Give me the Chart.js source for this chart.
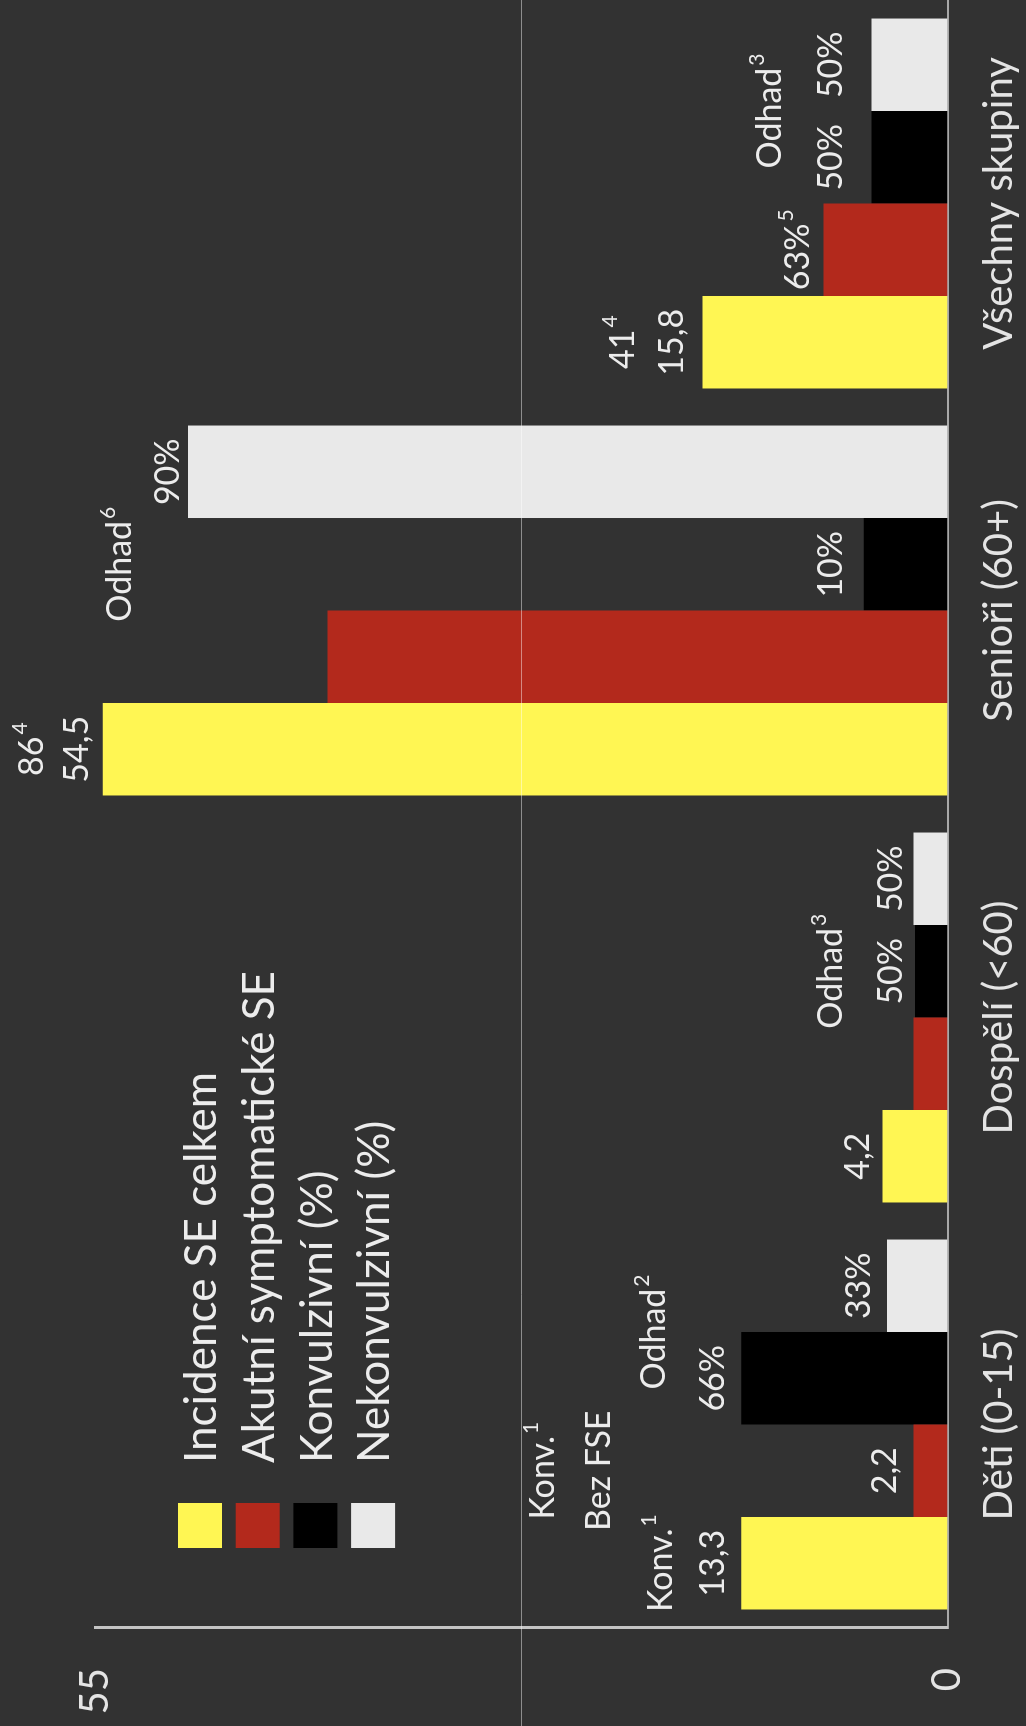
<!DOCTYPE html>
<html>
<head>
<meta charset="utf-8">
<script src="https://cdn.jsdelivr.net/npm/chart.js@4.4.0/dist/chart.umd.min.js"></script>
<style>
  html, body { margin: 0; padding: 0; background: #323232; overflow: hidden; }
  /* the chart is drawn landscape and turned a quarter left onto the portrait page */
  #turn { position: absolute; left: 0; top: 0; width: 1726px; height: 1026px;
          transform-origin: 0 0; transform: translateY(1726px) rotate(-90deg); }
  canvas { display: block; }
</style>
</head>
<body>
<div id="turn"><canvas id="chart" width="1726" height="1026"></canvas></div>
<script>
const categories = ['Děti (0-15)', 'Dospělí (<60)', 'Senioři (60+)', 'Všechny skupiny'];
const seriesNames = ['Incidence SE celkem', 'Akutní symptomatické SE', 'Konvulzivní (%)', 'Nekonvulzivní (%)'];
const incidence = [13.3, 4.2, 54.5, 15.8];
const acuteSymptomatic = [2.2, 2.2, 40.0, 8.0];
const convulsive = [13.3, 2.1, 5.4, 4.9];
const nonConvulsive = [3.9, 2.2, 49.0, 4.9];
const axisTicks = [0, 55];
const gridValue = 27.5;

const colors = ['#fff653', '#b3291c', '#000000', '#e9e9e9'];
const textColor = '#ececec';

// text written above the bars: category, bar(s) it sits on, how far above the bar end
const notes = [
  { cat: 0, on: [0], text: '13,3', lift: 28 },
  { cat: 0, on: [0], text: 'Konv.', sup: '1', lift: 80 },
  { cat: 0, on: [1], text: '2,2', lift: 28 },
  { cat: 0, on: [1], text: 'Bez FSE', lift: 314 },
  { cat: 0, on: [1], text: 'Konv.', sup: '1', lift: 370 },
  { cat: 0, on: [2], text: '66%', lift: 28 },
  { cat: 0, on: [2, 3], text: 'Odhad', sup: '2', lift: 87 },
  { cat: 0, on: [3], text: '33%', lift: 28 },
  { cat: 1, on: [0], text: '4,2', lift: 24 },
  { cat: 1, on: [2], text: '50%', lift: 24 },
  { cat: 1, on: [3], text: '50%', lift: 22 },
  { cat: 1, on: [2], text: 'Odhad', sup: '3', lift: 84 },
  { cat: 2, on: [0], text: '54,5', lift: 26 },
  { cat: 2, on: [0], text: '86', sup: '4', lift: 71 },
  { cat: 2, on: [2], text: 'Odhad', sup: '6', lift: 744 },
  { cat: 2, on: [2], text: '10%', lift: 33 },
  { cat: 2, on: [3], text: '90%', lift: 20 },
  { cat: 3, on: [0], text: '15,8', lift: 31 },
  { cat: 3, on: [0], text: '41', sup: '4', lift: 80 },
  { cat: 3, on: [1], text: '63%', sup: '5', lift: 25 },
  { cat: 3, on: [2], text: '50%', lift: 41 },
  { cat: 3, on: [3], text: '50%', lift: 41 },
  { cat: 3, on: [2, 3], text: 'Odhad', sup: '3', lift: 102 }
];

const backdrop = {
  id: 'backdrop',
  beforeDraw(chart) {
    const ctx = chart.ctx;
    ctx.save();
    ctx.fillStyle = '#323232';
    ctx.fillRect(0, 0, chart.width, chart.height);
    ctx.restore();
  }
};

const midLine = {
  id: 'midLine',
  afterDatasetsDraw(chart) {
    const ctx = chart.ctx;
    const y = Math.round(chart.scales.y.getPixelForValue(gridValue)) + 0.5;
    ctx.save();
    ctx.strokeStyle = 'rgba(255,255,255,0.45)';
    ctx.lineWidth = 1;
    ctx.beginPath();
    ctx.moveTo(0, y);
    ctx.lineTo(chart.width, y);
    ctx.stroke();
    ctx.restore();
  }
};

const extras = {
  id: 'extras',
  afterDraw(chart) {
    const ctx = chart.ctx;
    ctx.save();
    ctx.textBaseline = 'middle';
    ctx.textAlign = 'left';

    // legend
    ctx.font = '44px Lato';
    seriesNames.forEach((name, i) => {
      const top = 178 + i * 57.7;
      ctx.fillStyle = colors[i];
      ctx.fillRect(178, top, 45, 44);
      ctx.fillStyle = textColor;
      ctx.fillText(name, 263, top + 24);
    });

    // notes
    notes.forEach(n => {
      const bars = n.on.map(d => chart.getDatasetMeta(d).data[n.cat]);
      const cx = bars.reduce((s, b) => s + b.x, 0) / bars.length;
      const top = Math.min(...bars.map(b => b.y));
      const y = top - n.lift;
      ctx.font = '34px Lato';
      const w = ctx.measureText(n.text).width;
      let sw = 0;
      if (n.sup) {
        ctx.font = '21px Lato';
        sw = ctx.measureText(n.sup).width + 2;
      }
      const x0 = cx - (w + sw) / 2;
      ctx.fillStyle = textColor;
      ctx.font = '34px Lato';
      ctx.fillText(n.text, x0, y);
      if (n.sup) {
        ctx.font = '21px Lato';
        ctx.fillText(n.sup, x0 + w + 2, y - 12);
      }
    });
    ctx.restore();
  }
};

function draw() {
  Chart.defaults.font.family = 'Lato';
  new Chart(document.getElementById('chart'), {
    type: 'bar',
    data: {
      labels: categories,
      datasets: [incidence, acuteSymptomatic, convulsive, nonConvulsive].map((vals, i) => ({
        label: seriesNames[i],
        data: vals,
        backgroundColor: colors[i],
        borderWidth: 0,
        barPercentage: 1,
        categoryPercentage: 0.909
      }))
    },
    options: {
      responsive: false,
      devicePixelRatio: 1,
      animation: false,
      layout: { padding: { top: 95, left: 0, right: 0, bottom: 0 } },
      plugins: { legend: { display: false }, tooltip: { enabled: false } },
      scales: {
        x: {
          grid: { display: false, drawTicks: false },
          border: { display: true, color: '#a8a8a8', width: 2 },
          ticks: { color: '#e4e4e4', font: { size: 40 }, padding: 28, maxRotation: 0 },
          afterFit: s => { s.height = 1026 - 947.5; }
        },
        y: {
          min: 0,
          max: 55,
          grid: { display: false, drawTicks: false },
          border: { display: true, color: '#c4c4c4', width: 3 },
          afterBuildTicks: s => { s.ticks = axisTicks.map(v => ({ value: v })); },
          ticks: { color: '#e4e4e4', font: { size: 40 }, padding: 40 },
          afterFit: s => { s.width = 98; }
        }
      }
    },
    plugins: [backdrop, midLine, extras]
  });
}

if (document.fonts && document.fonts.load) {
  document.fonts.load('40px Lato').then(draw, draw);
} else {
  draw();
}
</script>
</body>
</html>
